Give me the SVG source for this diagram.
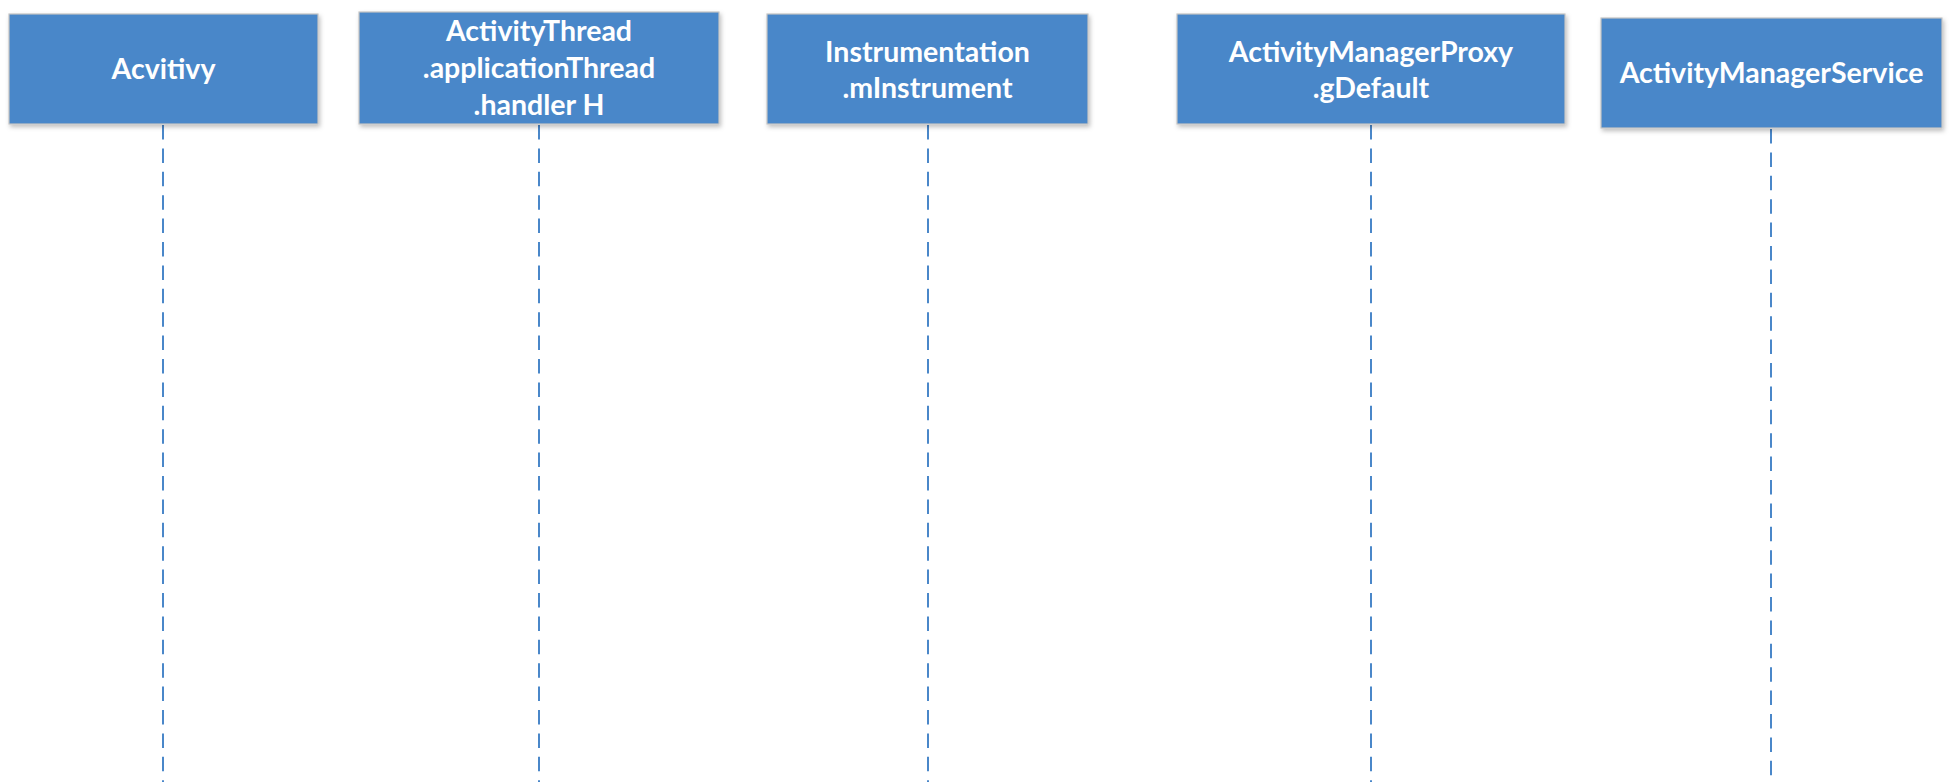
<svg xmlns="http://www.w3.org/2000/svg" width="1951" height="782" viewBox="0 0 1951 782">
<style>
.box{fill:#4a87c9;stroke:#c4c4c4;stroke-width:1.2;filter:url(#sh)}
.lbl{font-family:Lato,"Open Sans","Liberation Sans",sans-serif;font-weight:bold;font-size:28.5px;fill:#ffffff;text-anchor:middle}
.life{stroke:#4a87c9;stroke-width:2;stroke-dasharray:14.5 8.9;fill:none}
</style>
<defs>
<filter id="sh" x="-5%" y="-10%" width="110%" height="130%">
<feDropShadow dx="1.5" dy="2.5" stdDeviation="2" flood-color="#000" flood-opacity="0.25"/>
</filter>
</defs>
<rect width="1951" height="782" fill="#ffffff"/>
<g id="connectors">
<line class="life" x1="163" y1="125" x2="163" y2="782"/>
<line class="life" x1="539" y1="125" x2="539" y2="782"/>
<line class="life" x1="928" y1="125" x2="928" y2="782"/>
<line class="life" x1="1371" y1="125" x2="1371" y2="782"/>
<line class="life" x1="1771" y1="129" x2="1771" y2="782"/>
</g>
<g id="acvitivy">
<rect class="box" x="9" y="14" width="309" height="110"/>
<text class="lbl" x="163.5" y="79">Acvitivy</text>
</g>
<g id="activityThread">
<rect class="box" x="359" y="12" width="360" height="112"/>
<text class="lbl" x="539" y="41">ActivityThread</text>
<text class="lbl" x="539" y="78">.applicationThread</text>
<text class="lbl" x="539" y="115">.handler H</text>
</g>
<g id="instrumentation">
<rect class="box" x="767" y="14" width="321" height="110"/>
<text class="lbl" x="927.5" y="62">Instrumentation</text>
<text class="lbl" x="927.5" y="98">.mInstrument</text>
</g>
<g id="activityManagerProxy">
<rect class="box" x="1177" y="14" width="388" height="110"/>
<text class="lbl" x="1371" y="62">ActivityManagerProxy</text>
<text class="lbl" x="1371" y="98">.gDefault</text>
</g>
<g id="activityManagerService">
<rect class="box" x="1601" y="18" width="341" height="110"/>
<text class="lbl" x="1771.5" y="83">ActivityManagerService</text>
</g>
</svg>
